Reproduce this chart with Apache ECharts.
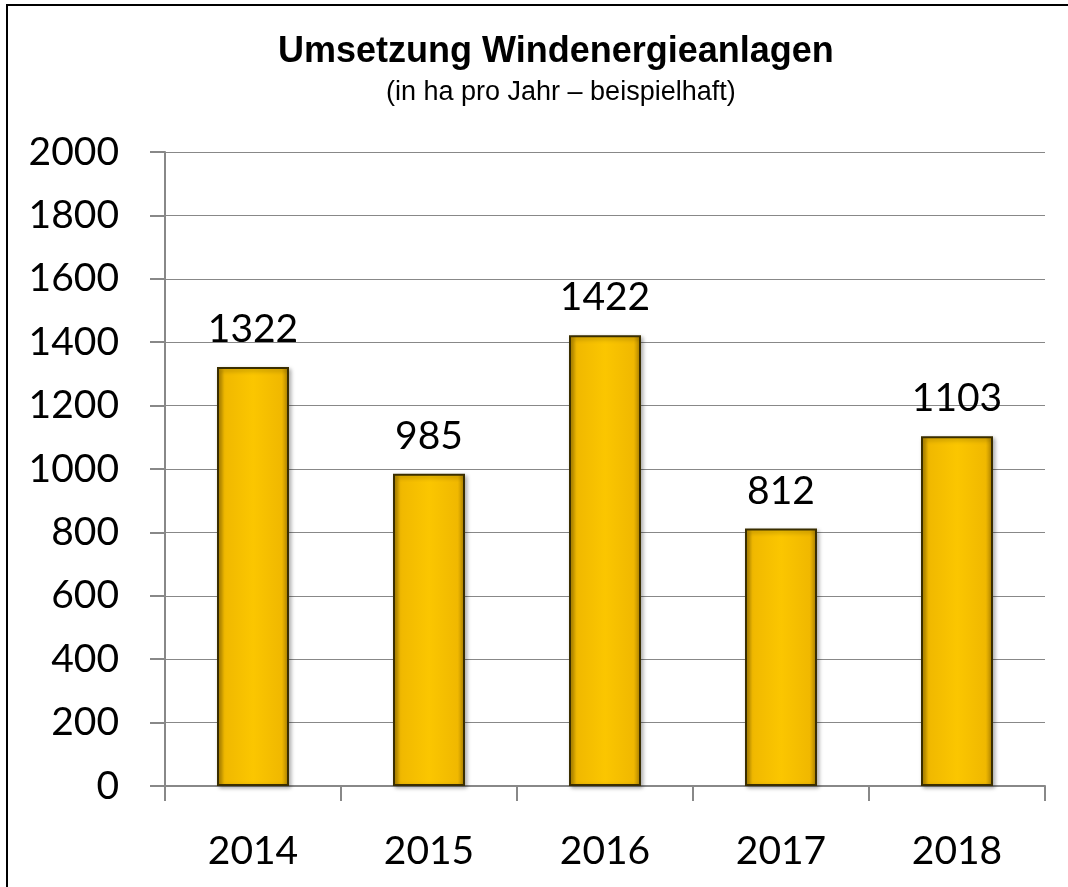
<!DOCTYPE html>
<html>
<head>
<meta charset="utf-8">
<script src="https://cdn.jsdelivr.net/npm/echarts@6/dist/echarts.min.js"></script>
<style>
  html, body { margin: 0; padding: 0; background: #fff; }
  #chart { width: 1068px; height: 887px; }
</style>
</head>
<body>
<div id="chart"></div>
<script>
const years = ["2014", "2015", "2016", "2017", "2018"];
const hectares = [1322, 985, 1422, 812, 1103];
const yTicks = { min: 0, max: 2000, interval: 200 };

const chart = echarts.init(document.getElementById("chart"), null, { renderer: "canvas" });

const gold = new echarts.graphic.LinearGradient(0, 0, 1, 0, [
  { offset: 0, color: "#a87e00" },
  { offset: 0.1, color: "#f0b800" },
  { offset: 0.5, color: "#fbc600" },
  { offset: 0.9, color: "#f0b800" },
  { offset: 1, color: "#a87e00" },
]);

chart.setOption({
  animation: false,
  title: [
    {
      text: "Umsetzung Windenergieanlagen",
      left: 278,
      top: 34,
      padding: 0,
      textStyle: { fontFamily: "Liberation Sans", fontSize: 36, fontWeight: "bold", color: "#000" },
    },
    {
      text: "(in ha pro Jahr – beispielhaft)",
      left: 386,
      top: 79,
      padding: 0,
      textStyle: { fontFamily: "Liberation Sans", fontSize: 27, fontWeight: "normal", color: "#000", letterSpacing: 2 },
    },
  ],
  graphic: [
    {
      type: "rect",
      shape: { x: 7, y: 5, width: 1200, height: 1000 },
      style: { fill: "none", stroke: "#000", lineWidth: 2 },
      silent: true,
    },
  ],
  grid: { left: 165, right: 23, top: 152, bottom: 101, containLabel: false },
  xAxis: {
    type: "category",
    data: years,
    axisLine: { lineStyle: { color: "#888", width: 2 } },
    axisTick: { show: true, length: 15, lineStyle: { color: "#888", width: 2 } },
    axisLabel: { fontFamily: "Lato", fontSize: 39, color: "#000", margin: 46 },
  },
  yAxis: {
    type: "value",
    min: yTicks.min,
    max: yTicks.max,
    interval: yTicks.interval,
    axisLine: { show: true, lineStyle: { color: "#888", width: 2 } },
    axisTick: { show: true, length: 15, lineStyle: { color: "#888", width: 2 } },
    axisLabel: { fontFamily: "Lato", fontSize: 39, color: "#000", margin: 46, formatter: (v) => String(v) },
    splitLine: { lineStyle: { color: "#888", width: 1 } },
  },
  series: [
    {
      type: "bar",
      data: hectares,
      barWidth: 72,
      itemStyle: {
        color: gold,
        borderColor: "#3a2e00",
        borderWidth: 2,
        shadowColor: "rgba(0,0,0,0.3)",
        shadowBlur: 4,
        shadowOffsetX: 2,
        shadowOffsetY: 2,
      },
      label: {
        show: true,
        position: "top",
        distance: 18,
        fontFamily: "Lato",
        fontSize: 39,
        color: "#000",
      },
    },
  ],
});
</script>
</body>
</html>
